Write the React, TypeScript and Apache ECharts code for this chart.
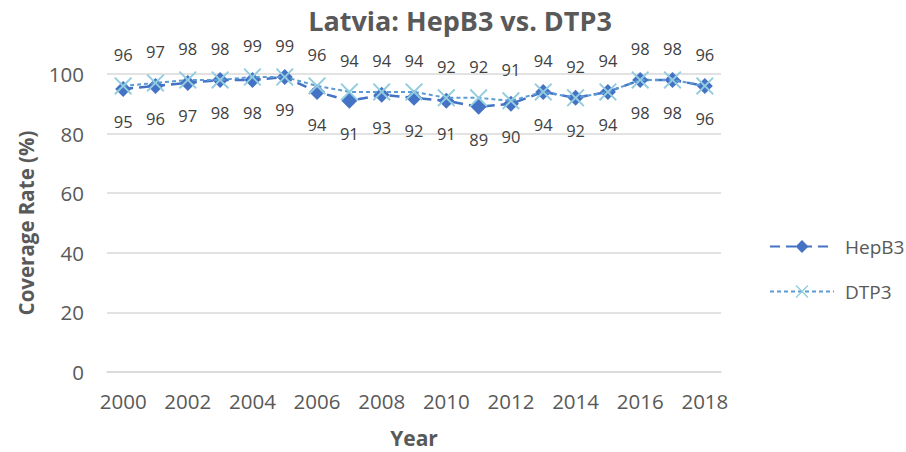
import React, { useEffect, useRef } from "react";
import * as echarts from "echarts";

const years = ["2000","2001","2002","2003","2004","2005","2006","2007","2008","2009","2010","2011","2012","2013","2014","2015","2016","2017","2018"];
const hepB3 = [95,96,97,98,98,99,94,91,93,92,91,89,90,94,92,94,98,98,96];
const dtp3 = [96,97,98,98,99,99,96,94,94,94,92,92,91,94,92,94,98,98,96];
const yTicks = [0, 20, 40, 60, 80, 100];

const FONT = "'Open Sans', 'Noto Sans', sans-serif";
const X_PATH = "path://M0,1.5 L1.5,0 L10,8.5 L18.5,0 L20,1.5 L11.5,10 L20,18.5 L18.5,20 L10,11.5 L1.5,20 L0,18.5 L8.5,10 Z";

export default function App() {
  const ref = useRef<HTMLDivElement>(null);
  useEffect(() => {
    if (!ref.current) return;
    const chart = echarts.init(ref.current, undefined, { renderer: "svg" });
    chart.setOption({
      animation: false,
      backgroundColor: "#ffffff",
      textStyle: { fontFamily: FONT },
      title: {
        text: "Latvia: HepB3 vs. DTP3",
        left: 455,
        textAlign: "center",
        top: 2,
        textStyle: { fontFamily: FONT, fontSize: 27, fontWeight: "bold", color: "#595959" },
      },
      legend: {
        orient: "vertical",
        left: 764,
        top: 232,
        itemGap: 26,
        itemWidth: 64,
        itemHeight: 16,
        textStyle: { fontFamily: FONT, fontSize: 19, color: "#595959", padding: [0, 0, 0, 6] },
        data: ["HepB3", "DTP3"],
      },
      grid: { left: 107, right: 185, top: 74, bottom: 80, outerBoundsMode: "none", containLabel: false },
      xAxis: {
        type: "category",
        data: years,
        boundaryGap: true,
        name: "Year",
        nameLocation: "middle",
        nameGap: 55,
        nameTextStyle: { fontFamily: FONT, fontSize: 21, lineHeight: 22, fontWeight: "bold", color: "#595959" },
        axisLine: { show: true, lineStyle: { color: "#d9d9d9", width: 1.5 } },
        axisTick: { show: false },
        axisLabel: { interval: 1, margin: 18, fontFamily: FONT, fontSize: 20.5, color: "#595959" },
      },
      yAxis: {
        type: "value",
        min: yTicks[0],
        max: yTicks[yTicks.length - 1],
        interval: 20,
        name: "Coverage Rate (%)",
        nameLocation: "middle",
        nameGap: 71,
        nameTextStyle: { fontFamily: FONT, fontSize: 20.5, fontWeight: "bold", color: "#595959" },
        axisLine: { show: false },
        axisTick: { show: false },
        axisLabel: { margin: 23, fontFamily: FONT, fontSize: 20.5, color: "#595959" },
        splitLine: { lineStyle: { color: "#d9d9d9", width: 1.5 } },
      },
      series: [
        {
          name: "HepB3",
          type: "line",
          data: hepB3,
          symbol: "diamond",
          symbolSize: 16,
          itemStyle: { color: "#4472C4" },
          lineStyle: { color: "#4472C4", width: 2.5, type: [10, 6] },
          label: { show: true, position: "bottom", distance: 16, fontFamily: FONT, fontSize: 16.5, color: "#404040" },
          z: 2,
        },
        {
          name: "DTP3",
          type: "line",
          data: dtp3,
          symbol: X_PATH,
          symbolSize: 18,
          itemStyle: { color: "#92CDDF" },
          lineStyle: { color: "#5B9BD5", width: 2, type: [4, 3] },
          label: { show: true, position: "top", distance: 14, fontFamily: FONT, fontSize: 16.5, color: "#404040" },
          z: 3,
        },
      ],
    });
    return () => chart.dispose();
  }, []);
  return <div ref={ref} style={{ position: "absolute", left: 0, top: 0, width: 906, height: 452 }} />;
}
